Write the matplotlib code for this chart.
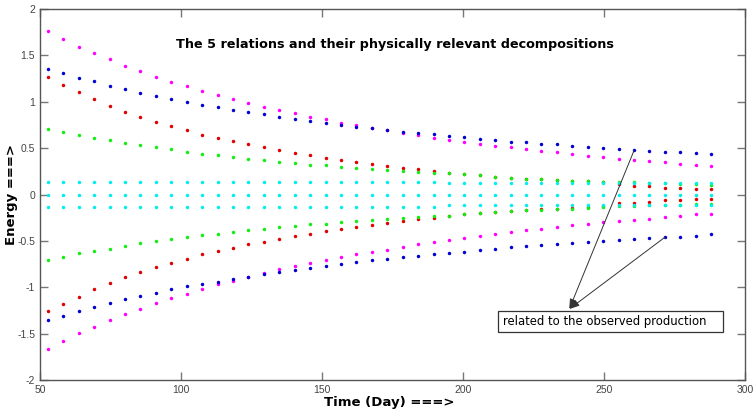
import numpy as np
import matplotlib
matplotlib.use("Agg")
import matplotlib.pyplot as plt
from matplotlib.patches import Rectangle

# ---------- data ----------
days = [52.8, 58.3, 63.7, 69.2, 74.7, 80.2, 85.6, 91.1, 96.6, 102.0,
        107.5, 113.0, 118.4, 123.9, 129.4, 134.9, 140.3, 145.8, 151.3, 156.7,
        162.2, 167.7, 173.1, 178.6, 184.1, 189.6, 195.0, 200.5, 206.0, 211.4,
        216.9, 222.4, 227.8, 233.3, 238.8, 244.3, 249.7, 255.2, 260.7, 266.1,
        271.6, 277.1, 282.5, 288.0]

magenta_up = [1.763, 1.677, 1.594, 1.522, 1.458, 1.385, 1.331, 1.270, 1.216, 1.170,
              1.119, 1.070, 1.034, 0.984, 0.947, 0.911, 0.875, 0.839, 0.811, 0.774,
              0.746, 0.714, 0.692, 0.666, 0.638, 0.612, 0.588, 0.569, 0.548, 0.526,
              0.512, 0.487, 0.469, 0.455, 0.440, 0.418, 0.404, 0.383, 0.369, 0.361,
              0.347, 0.332, 0.321, 0.311]
magenta_lo = [-1.662, -1.580, -1.493, -1.425, -1.353, -1.285, -1.231, -1.170, -1.116, -1.069,
              -1.016, -0.968, -0.933, -0.886, -0.850, -0.807, -0.774, -0.739, -0.706, -0.677,
              -0.645, -0.617, -0.595, -0.563, -0.537, -0.515, -0.494, -0.472, -0.444, -0.429,
              -0.408, -0.383, -0.369, -0.354, -0.333, -0.315, -0.300, -0.282, -0.278, -0.264,
              -0.246, -0.228, -0.214, -0.207]

blue_up = [1.356, 1.310, 1.256, 1.220, 1.170, 1.134, 1.091, 1.062, 1.026, 0.994,
           0.962, 0.940, 0.908, 0.886, 0.865, 0.832, 0.811, 0.792, 0.771, 0.746,
           0.731, 0.714, 0.692, 0.674, 0.660, 0.649, 0.631, 0.620, 0.602, 0.584,
           0.569, 0.563, 0.548, 0.541, 0.526, 0.515, 0.505, 0.494, 0.477, 0.469,
           0.461, 0.455, 0.447, 0.433]
blue_lo = [-1.353, -1.307, -1.256, -1.216, -1.170, -1.130, -1.094, -1.062, -1.022, -0.990,
           -0.962, -0.940, -0.908, -0.886, -0.861, -0.832, -0.811, -0.792, -0.768, -0.746,
           -0.728, -0.706, -0.692, -0.677, -0.660, -0.645, -0.631, -0.617, -0.598, -0.584,
           -0.570, -0.559, -0.544, -0.534, -0.520, -0.512, -0.498, -0.491, -0.476, -0.469,
           -0.461, -0.455, -0.444, -0.426]

red_up = [1.264, 1.177, 1.102, 1.026, 0.954, 0.893, 0.839, 0.785, 0.739, 0.692,
          0.645, 0.609, 0.577, 0.541, 0.512, 0.480, 0.449, 0.424, 0.397, 0.372,
          0.349, 0.330, 0.311, 0.289, 0.272, 0.255, 0.237, 0.222, 0.208, 0.194,
          0.182, 0.172, 0.164, 0.156, 0.149, 0.142, 0.133, 0.118, 0.092, 0.090,
          0.074, 0.069, 0.062, 0.056]
red_lo = [-1.259, -1.177, -1.102, -1.022, -0.954, -0.893, -0.839, -0.785, -0.739, -0.692,
          -0.645, -0.606, -0.580, -0.537, -0.509, -0.477, -0.447, -0.423, -0.394, -0.372,
          -0.347, -0.329, -0.307, -0.286, -0.267, -0.253, -0.232, -0.214, -0.196, -0.189,
          -0.178, -0.170, -0.160, -0.153, -0.142, -0.135, -0.125, -0.088, -0.088, -0.077,
          -0.063, -0.056, -0.049, -0.049]

green_up = [0.710, 0.671, 0.638, 0.609, 0.584, 0.555, 0.530, 0.509, 0.487, 0.461,
            0.440, 0.423, 0.408, 0.386, 0.372, 0.354, 0.336, 0.321, 0.315, 0.300,
            0.286, 0.278, 0.261, 0.253, 0.239, 0.232, 0.228, 0.219, 0.207, 0.193,
            0.181, 0.171, 0.164, 0.156, 0.149, 0.142, 0.133, 0.131, 0.131, 0.125,
            0.121, 0.118, 0.113, 0.104]
green_lo = [-0.710, -0.670, -0.634, -0.606, -0.584, -0.552, -0.526, -0.505, -0.483, -0.461,
            -0.437, -0.423, -0.404, -0.386, -0.368, -0.354, -0.336, -0.321, -0.315, -0.300,
            -0.282, -0.275, -0.261, -0.253, -0.239, -0.229, -0.232, -0.214, -0.196, -0.189,
            -0.178, -0.172, -0.167, -0.160, -0.152, -0.146, -0.135, -0.125, -0.120, -0.116,
            -0.114, -0.110, -0.106, -0.102]

cyan_up = [0.138, 0.138, 0.138, 0.138, 0.138, 0.138, 0.138, 0.138, 0.138, 0.138,
           0.138, 0.138, 0.138, 0.138, 0.138, 0.138, 0.134, 0.134, 0.134, 0.134,
           0.134, 0.130, 0.130, 0.130, 0.130, 0.130, 0.124, 0.124, 0.124, 0.124,
           0.124, 0.124, 0.124, 0.124, 0.124, 0.124, 0.121, 0.121, 0.121, 0.121,
           0.121, 0.121, 0.121, 0.121]
cyan_mid = [0.0] * 44
cyan_lo = [-0.135, -0.135, -0.135, -0.135, -0.135, -0.135, -0.135, -0.135, -0.135, -0.135,
           -0.135, -0.135, -0.135, -0.135, -0.135, -0.135, -0.131, -0.131, -0.131, -0.131,
           -0.131, -0.131, -0.131, -0.131, -0.131, -0.131, -0.118, -0.118, -0.118, -0.118,
           -0.118, -0.118, -0.118, -0.118, -0.118, -0.118, -0.118, -0.118, -0.118, -0.118,
           -0.118, -0.118, -0.118, -0.118]

# ---------- figure ----------
fig = plt.figure(figsize=(7.54, 4.11), dpi=100)
ax = fig.add_axes([0.053, 0.0754, 0.935, 0.9026])

series = [
    (magenta_up, "#ff00ff"), (magenta_lo, "#ff00ff"),
    (blue_up, "#0000d0"), (blue_lo, "#0000d0"),
    (red_up, "#e00000"), (red_lo, "#e00000"),
    (green_up, "#11ee11"), (green_lo, "#11ee11"),
    (cyan_up, "#00eeee"), (cyan_mid, "#00eeee"), (cyan_lo, "#00eeee"),
]
for vals, col in series:
    ax.plot(days, vals, linestyle="none", marker="o", markersize=2.5,
            markeredgewidth=0, color=col)

ax.set_xlim(50, 300)
ax.set_ylim(-2, 2)
ax.set_xticks([50, 100, 150, 200, 250, 300])
ax.set_yticks([-2, -1.5, -1, -0.5, 0, 0.5, 1, 1.5, 2])
ax.set_yticklabels(["-2", "-1.5", "-1", "-0.5", "0", "0.5", "1", "1.5", "2"])
ax.tick_params(direction="in", length=6, width=1, color="#777777",
               labelsize=7.5, labelcolor="#444444", top=True, right=True)
for lab in ax.get_xticklabels() + ax.get_yticklabels():
    lab.set_family("Liberation Sans")
for sp in ax.spines.values():
    sp.set_color("#555555")
    sp.set_linewidth(1)

ax.text(176, 1.62, "The 5 relations and their physically relevant decompositions",
        ha="center", va="center", fontsize=9.2, fontweight="bold")
ax.set_xlabel("Time (Day) ===>", fontsize=9.5, fontweight="bold")
ax.xaxis.set_label_coords(0.496, -0.044)
ax.set_ylabel("Energy ===>", fontsize=9.5, fontweight="bold")
ax.yaxis.set_label_coords(-0.031, 0.5)

# annotation box
ax.add_patch(Rectangle((212.4, -1.482), 79.8, 0.226, fc="white", ec="#333333",
                       lw=0.9, zorder=3))
ax.text(214.2, -1.372, "related to the observed production", ha="left", va="center",
        fontsize=8.4, zorder=4)
head = (237.7, -1.235)
for src in [(days[38], blue_up[38]), (days[40], blue_lo[40])]:
    ax.annotate("", xy=head, xytext=src,
                arrowprops=dict(arrowstyle="-|>,head_length=0.6,head_width=0.2",
                                color="#333333", lw=0.7, shrinkA=0, shrinkB=0))

fig.savefig("out.png", dpi=100)
